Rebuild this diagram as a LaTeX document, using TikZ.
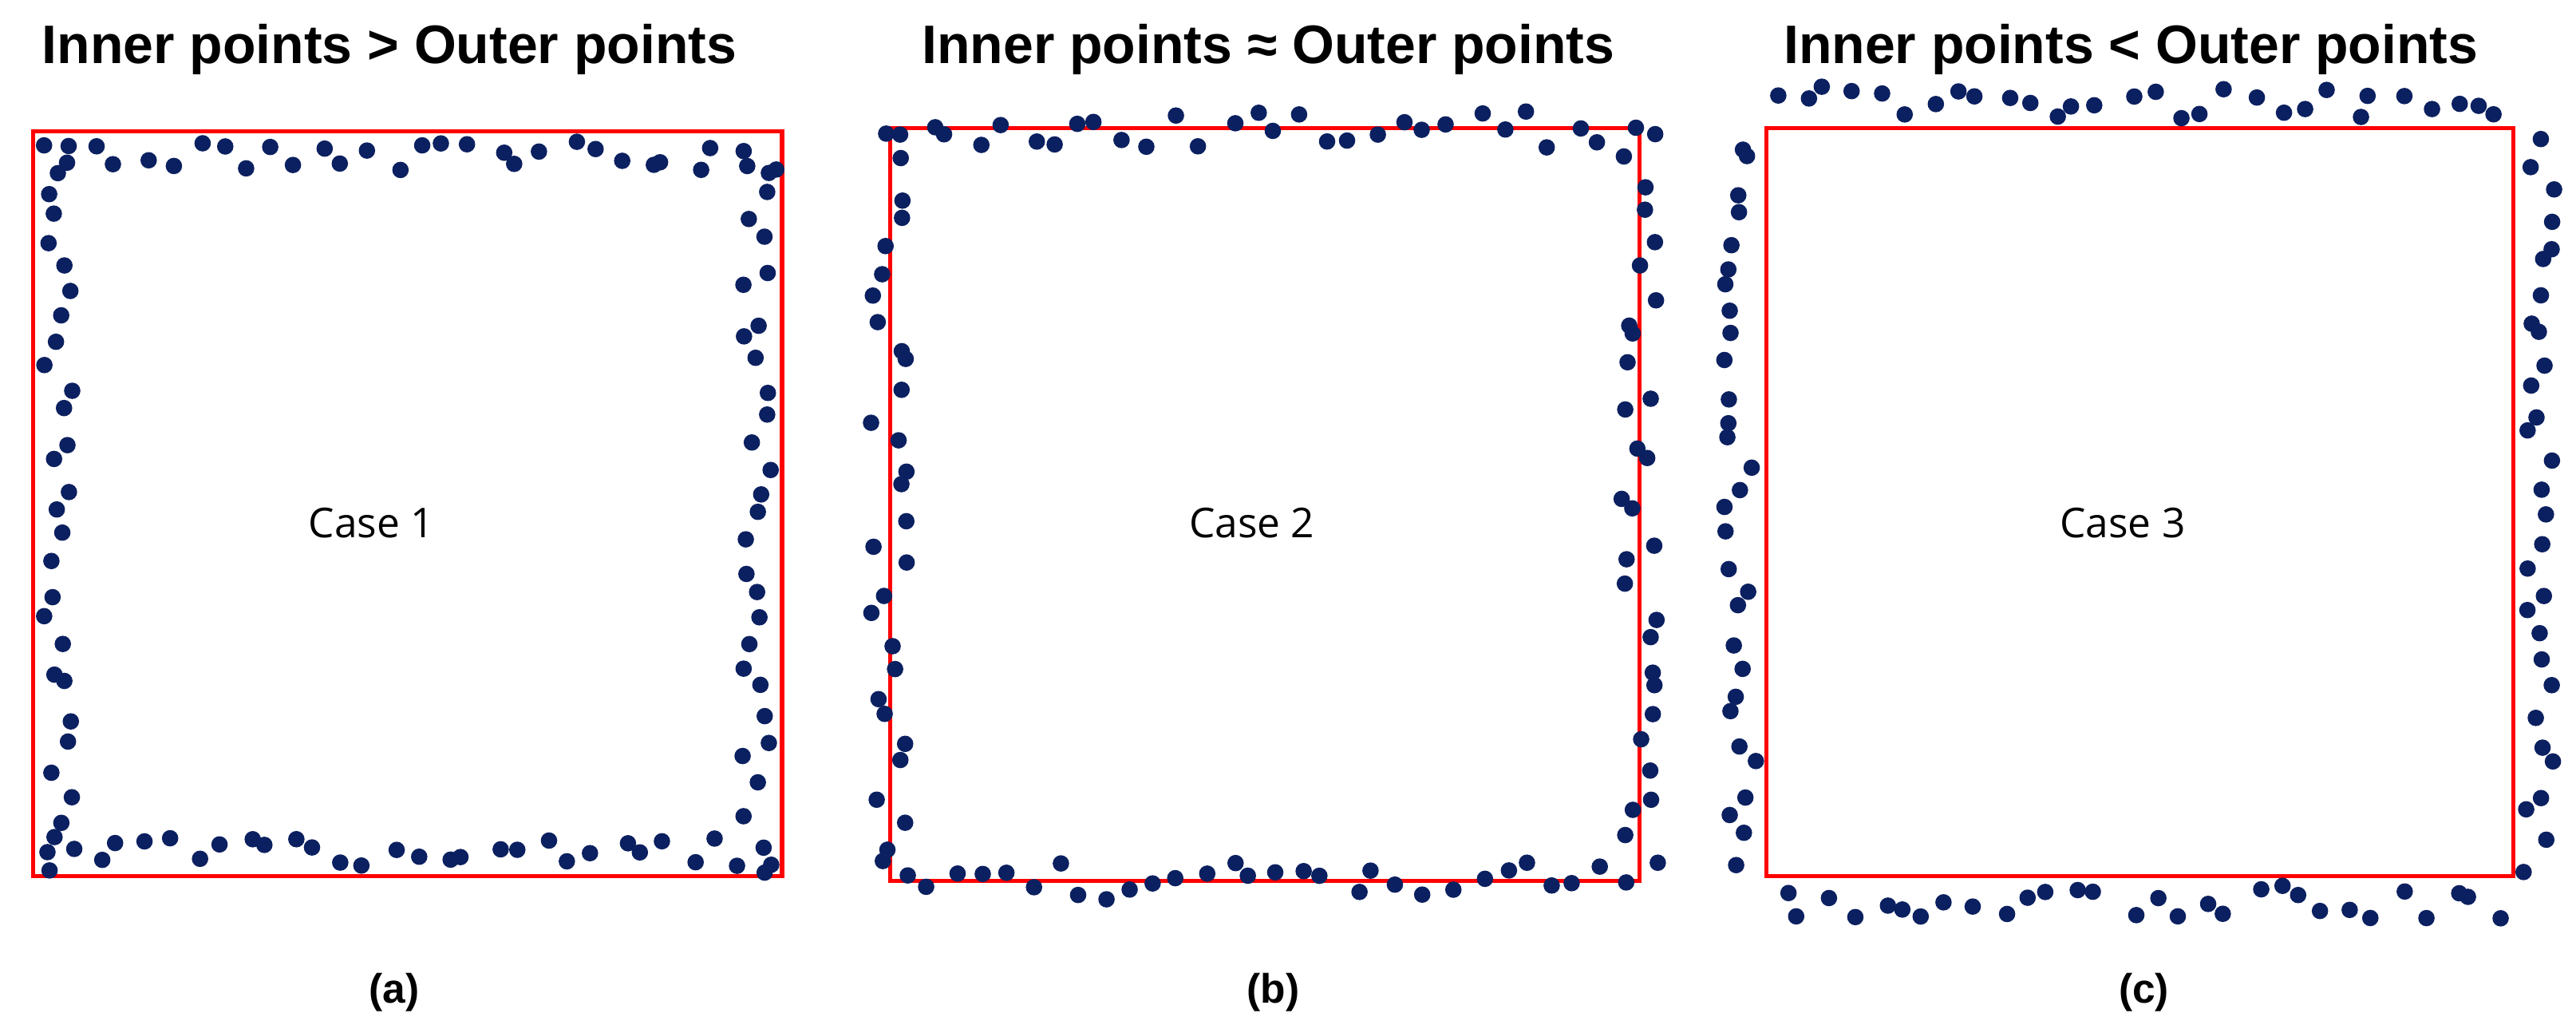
\documentclass[tikz,border=0pt]{standalone}
\usepackage{fontspec}
\setmainfont{Liberation Sans}
\newfontfamily\casefont{Open Sans}
\definecolor{dotc}{HTML}{0B2060}
\newcommand\pdots[6]{%
 \foreach \i in {0,...,29}{%
  \pgfmathsetmacro\t{(\i+0.5+0.4*rand)/30}%
  \pgfmathsetmacro\o{#5+#6*rnd}%
  \fill[dotc] ({#1+\t*(#3-#1)},{#2+\o}) circle (5);
  \pgfmathsetmacro\t{(\i+0.5+0.4*rand)/30}%
  \pgfmathsetmacro\o{#5+#6*rnd}%
  \fill[dotc] ({#1+\t*(#3-#1)},{#4-\o}) circle (5);
  \pgfmathsetmacro\t{(\i+0.5+0.4*rand)/30}%
  \pgfmathsetmacro\o{#5+#6*rnd}%
  \fill[dotc] ({#1+\o},{#2+\t*(#4-#2)}) circle (5);
  \pgfmathsetmacro\t{(\i+0.5+0.4*rand)/30}%
  \pgfmathsetmacro\o{#5+#6*rnd}%
  \fill[dotc] ({#3-\o},{#2+\t*(#4-#2)}) circle (5);
 }}
\begin{document}
\begin{tikzpicture}[x=1pt,y=-1pt,
 box/.style={draw=red,line width=2.5pt},
 ttl/.style={font=\fontsize{33}{36}\selectfont\bfseries},
 cs/.style={font=\casefont\fontsize{25}{28}\selectfont},
 lab/.style={font=\fontsize{25}{28}\selectfont\bfseries}]
\useasboundingbox[fill=white] (0,0) rectangle (1568,621);
\pgfmathsetseed{7}
\draw[box] (20,80) rectangle (476,533);
\draw[box] (542,78) rectangle (998,536);
\draw[box] (1075,78) rectangle (1530,533);
\pdots{20}{80}{476}{533}{6}{18}
\pdots{542}{78}{998}{536}{-12}{24}
\pdots{1075}{78}{1530}{533}{-26}{20}
\node[ttl] (t1) at (237,30) {Inner points > Outer points};
\node[ttl] (t2) at (772,30) {Inner points ≈ Outer points};
\node[ttl] (t3) at (1297,30) {Inner points < Outer points};
\node[cs] (c1) at (226,318) {Case 1};
\node[cs] (c2) at (762,318) {Case 2};
\node[cs] (c3) at (1292,318) {Case 3};
\node[lab] (l1) at (240,604) {(a)};
\node[lab] (l2) at (775,604) {(b)};
\node[lab] (l3) at (1305,604) {(c)};
\end{tikzpicture}
\end{document}
